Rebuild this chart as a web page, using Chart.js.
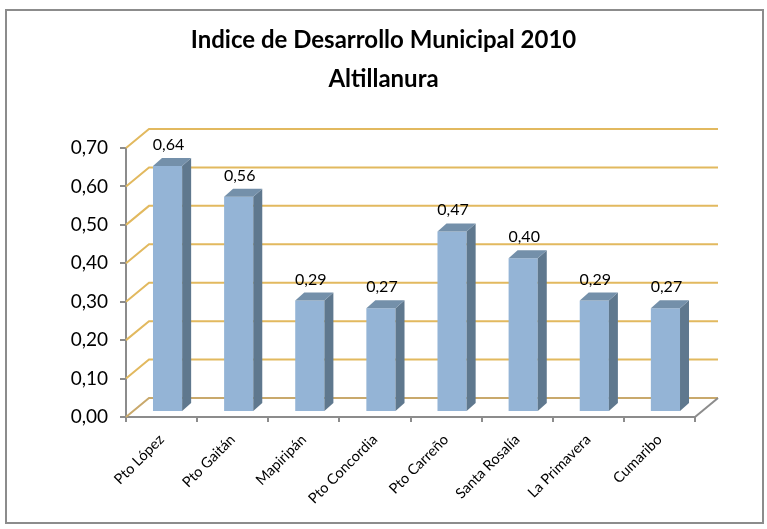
<!DOCTYPE html>
<html>
<head>
<meta charset="utf-8">
<script src="https://cdn.jsdelivr.net/npm/chart.js@4.4.1/dist/chart.umd.min.js"></script>
<style>
  html, body { margin: 0; padding: 0; background: #fff; }
  canvas { display: block; }
</style>
</head>
<body>
<canvas id="chart" width="767" height="529"></canvas>
<script>
// data
const categories = ['Pto López', 'Pto Gaitán', 'Mapiripán', 'Pto Concordia', 'Pto Carreño', 'Santa Rosalía', 'La Primavera', 'Cumaribo'];
const idmValues = [0.64, 0.56, 0.29, 0.27, 0.47, 0.40, 0.29, 0.27];
const yTickLabels = ['0,00', '0,10', '0,20', '0,30', '0,40', '0,50', '0,60', '0,70'];
const titleLines = ['Indice de Desarrollo Municipal 2010', 'Altillanura'];

const FONT = 'Lato, "Noto Sans", sans-serif';
const DEPTH = { dx: 23, dy: -19 };     // back wall offset from the front plane
const BAR_SHIFT = { dx: 6, dy: -5 };   // bars stand a little into the depth
const BAR_SIDE = { dx: 9, dy: -8 };    // bar thickness (side + top faces)
const AXIS_GRAY = '#8c8c8c';

const fmt = v => v.toFixed(2).replace('.', ',');

// fake 3D: back wall gridlines, floor edge, bar side/top faces, value labels
const frame3d = {
  id: 'frame3d',
  beforeDraw(chart) {
    const ctx = chart.ctx;
    ctx.save();
    ctx.strokeStyle = AXIS_GRAY;
    ctx.lineWidth = 2;
    ctx.strokeRect(6, 10, 757, 513);
    ctx.restore();
  },
  beforeDatasetsDraw(chart) {
    const { ctx, chartArea: a, scales: { y } } = chart;
    ctx.save();
    ctx.lineWidth = 2;
    y.ticks.forEach(t => {
      const py = y.getPixelForValue(t.value);
      ctx.strokeStyle = t.value === 0 ? '#c9a96c' : '#e2b95f';
      ctx.beginPath();
      ctx.moveTo(a.left, py);
      ctx.lineTo(a.left + DEPTH.dx, py + DEPTH.dy);
      ctx.lineTo(a.right + DEPTH.dx, py + DEPTH.dy);
      ctx.stroke();
    });
    // right edge of the floor
    ctx.strokeStyle = AXIS_GRAY;
    ctx.beginPath();
    ctx.moveTo(a.right, a.bottom);
    ctx.lineTo(a.right + DEPTH.dx, a.bottom + DEPTH.dy);
    ctx.stroke();
    ctx.restore();

    ctx.save();
    ctx.translate(BAR_SHIFT.dx, BAR_SHIFT.dy);
  },
  afterDatasetsDraw(chart) {
    const ctx = chart.ctx;
    const meta = chart.getDatasetMeta(0);
    meta.data.forEach(bar => {
      const { x, y, base, width } = bar.getProps(['x', 'y', 'base', 'width'], true);
      const l = x - width / 2, r = x + width / 2;
      ctx.fillStyle = '#5f788e';
      ctx.beginPath();
      ctx.moveTo(r, y);
      ctx.lineTo(r + BAR_SIDE.dx, y + BAR_SIDE.dy);
      ctx.lineTo(r + BAR_SIDE.dx, base + BAR_SIDE.dy);
      ctx.lineTo(r, base);
      ctx.closePath();
      ctx.fill();
      ctx.fillStyle = '#7490aa';
      ctx.beginPath();
      ctx.moveTo(l, y);
      ctx.lineTo(l + BAR_SIDE.dx, y + BAR_SIDE.dy);
      ctx.lineTo(r + BAR_SIDE.dx, y + BAR_SIDE.dy);
      ctx.lineTo(r, y);
      ctx.closePath();
      ctx.fill();
    });
    ctx.restore();

    ctx.save();
    ctx.fillStyle = '#000';
    ctx.font = '16px ' + FONT;
    ctx.textAlign = 'center';
    ctx.textBaseline = 'alphabetic';
    meta.data.forEach((bar, i) => {
      const { x, y } = bar.getProps(['x', 'y'], true);
      ctx.fillText(fmt(idmValues[i]), x + BAR_SHIFT.dx + 1, y + BAR_SHIFT.dy - 16);
    });
    ctx.restore();
  }
};

new Chart(document.getElementById('chart'), {
  type: 'bar',
  data: {
    labels: categories,
    datasets: [{
      data: idmValues,
      backgroundColor: '#94b4d6',
      borderWidth: 0,
      barPercentage: 0.41,
      categoryPercentage: 1,
      yAxisID: 'y',
      clip: false
    }]
  },
  options: {
    responsive: false,
    animation: false,
    plugins: {
      legend: { display: false },
      tooltip: { enabled: false },
      title: {
        display: true,
        text: titleLines,
        color: '#000',
        font: { family: FONT, size: 24, weight: 'bold', lineHeight: 1.625 },
        padding: { top: 21, bottom: 49 }
      }
    },
    scales: {
      x: {
        border: { color: AXIS_GRAY, width: 2 },
        grid: { drawOnChartArea: false, tickLength: 5, color: AXIS_GRAY, lineWidth: 2 },
        ticks: { minRotation: 45, maxRotation: 45, color: '#000', font: { family: FONT, size: 14.5 }, padding: 9 },
        afterFit(s) { s.height = 112; }
      },
      y: {
        min: 0,
        max: 0.7,
        border: { color: AXIS_GRAY, width: 2 },
        grid: { drawOnChartArea: false, tickLength: 6, color: AXIS_GRAY, lineWidth: 2 },
        ticks: {
          stepSize: 0.1,
          color: '#000',
          font: { family: FONT, size: 19 },
          padding: 12,
          callback: (v, i) => yTickLabels[i]
        },
        afterFit(s) { s.width = 126; }
      },
      // empty strip on the right so the title stays centred on the page
      yRight: {
        position: 'right',
        grid: { display: false },
        border: { display: false },
        ticks: { display: false },
        afterFit(s) { s.width = 72; }
      }
    }
  },
  plugins: [frame3d]
});
</script>
</body>
</html>
